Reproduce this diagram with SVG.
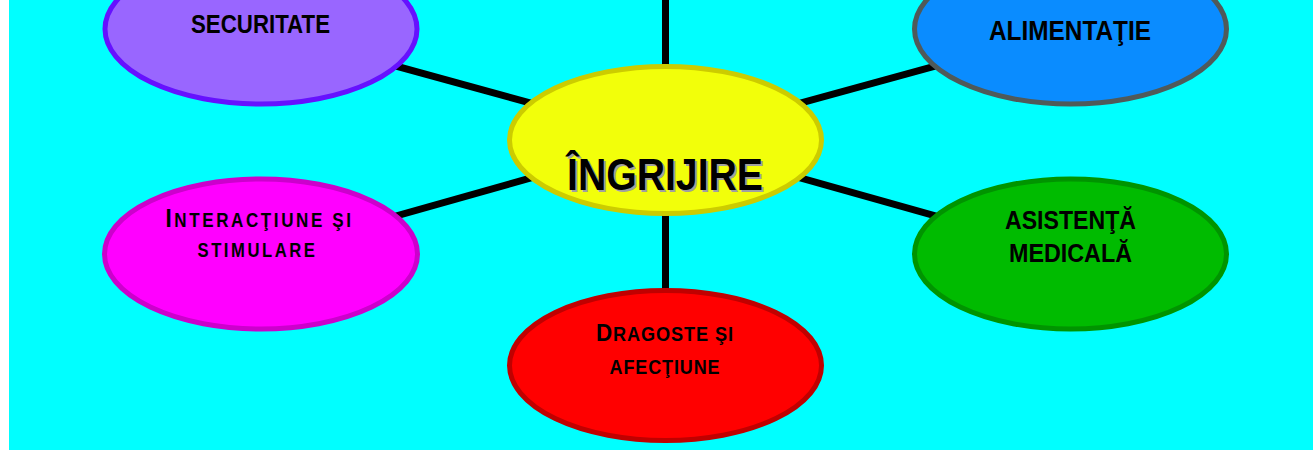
<svg xmlns="http://www.w3.org/2000/svg" width="1313" height="450" viewBox="0 0 1313 450">
  <style>
    .conn { stroke: #000000; stroke-width: 7; fill: none; }
    .node { stroke-width: 5; }
    .lbl { font-family: "Liberation Sans", Arial, sans-serif; font-weight: bold; fill: #000000; }
  </style>
  <rect x="0" y="0" width="1313" height="450" fill="#ffffff"/>
  <rect x="9" y="0" width="1304" height="450" fill="#00ffff"/>
  <g id="connectors">
    <line class="conn" x1="665.5" y1="0" x2="665.5" y2="140"/>
    <line class="conn" x1="665.5" y1="140" x2="665.5" y2="365"/>
    <line class="conn" x1="261" y1="29" x2="665.5" y2="140"/>
    <line class="conn" x1="1070.5" y1="29" x2="665.5" y2="140"/>
    <line class="conn" x1="261" y1="254" x2="665.5" y2="140"/>
    <line class="conn" x1="1070.5" y1="254" x2="665.5" y2="140"/>
  </g>
  <g id="securitate">
    <ellipse class="node" cx="261" cy="29" rx="156" ry="75" fill="#9966ff" stroke="#6611ff"/>
    <text class="lbl" x="191" y="33.3" font-size="25.5" textLength="139" lengthAdjust="spacingAndGlyphs">SECURITATE</text>
  </g>
  <g id="alimentatie">
    <ellipse class="node" cx="1070.5" cy="29" rx="156" ry="75" fill="#0a8cff" stroke="#4f5a5a"/>
    <text class="lbl" x="989" y="40" font-size="28.5" textLength="162" lengthAdjust="spacingAndGlyphs">ALIMENTAŢIE</text>
  </g>
  <g id="ingrijire">
    <ellipse class="node" cx="665.5" cy="140" rx="156" ry="73.5" fill="#f2ff0a" stroke="#cccc00"/>
    <text class="lbl" x="569" y="192" font-size="44" fill="#999999" style="fill:#a0a0a0" textLength="196" lengthAdjust="spacingAndGlyphs">ÎNGRIJIRE</text>
    <text class="lbl" x="567" y="190" font-size="44" textLength="196" lengthAdjust="spacingAndGlyphs">ÎNGRIJIRE</text>
  </g>
  <g id="interactiune">
    <ellipse class="node" cx="261" cy="254" rx="156.5" ry="75" fill="#ff00ff" stroke="#cc00cc"/>
    <text class="lbl" x="165.5" y="226.7" font-size="19.5" textLength="188" lengthAdjust="spacingAndGlyphs" letter-spacing="3"><tspan font-size="25.5">I</tspan>NTERACŢIUNE ŞI</text>
    <text class="lbl" x="197.5" y="257.3" font-size="19.5" textLength="120" lengthAdjust="spacingAndGlyphs" letter-spacing="3">STIMULARE</text>
  </g>
  <g id="asistenta">
    <ellipse class="node" cx="1070.5" cy="254" rx="156" ry="75" fill="#00bb00" stroke="#009400"/>
    <text class="lbl" x="1005" y="229.3" font-size="26" textLength="131" lengthAdjust="spacingAndGlyphs">ASISTENŢĂ</text>
    <text class="lbl" x="1009" y="261.7" font-size="26" textLength="123" lengthAdjust="spacingAndGlyphs">MEDICALĂ</text>
  </g>
  <g id="dragoste">
    <ellipse class="node" cx="665.5" cy="365.5" rx="156" ry="75" fill="#ff0000" stroke="#c00000"/>
    <text class="lbl" x="596" y="341" font-size="20" textLength="138" lengthAdjust="spacingAndGlyphs" letter-spacing="1"><tspan font-size="24.7">D</tspan>RAGOSTE ŞI</text>
    <text class="lbl" x="609.5" y="374.3" font-size="20" textLength="111" lengthAdjust="spacingAndGlyphs" letter-spacing="1">AFECŢIUNE</text>
  </g>
</svg>
